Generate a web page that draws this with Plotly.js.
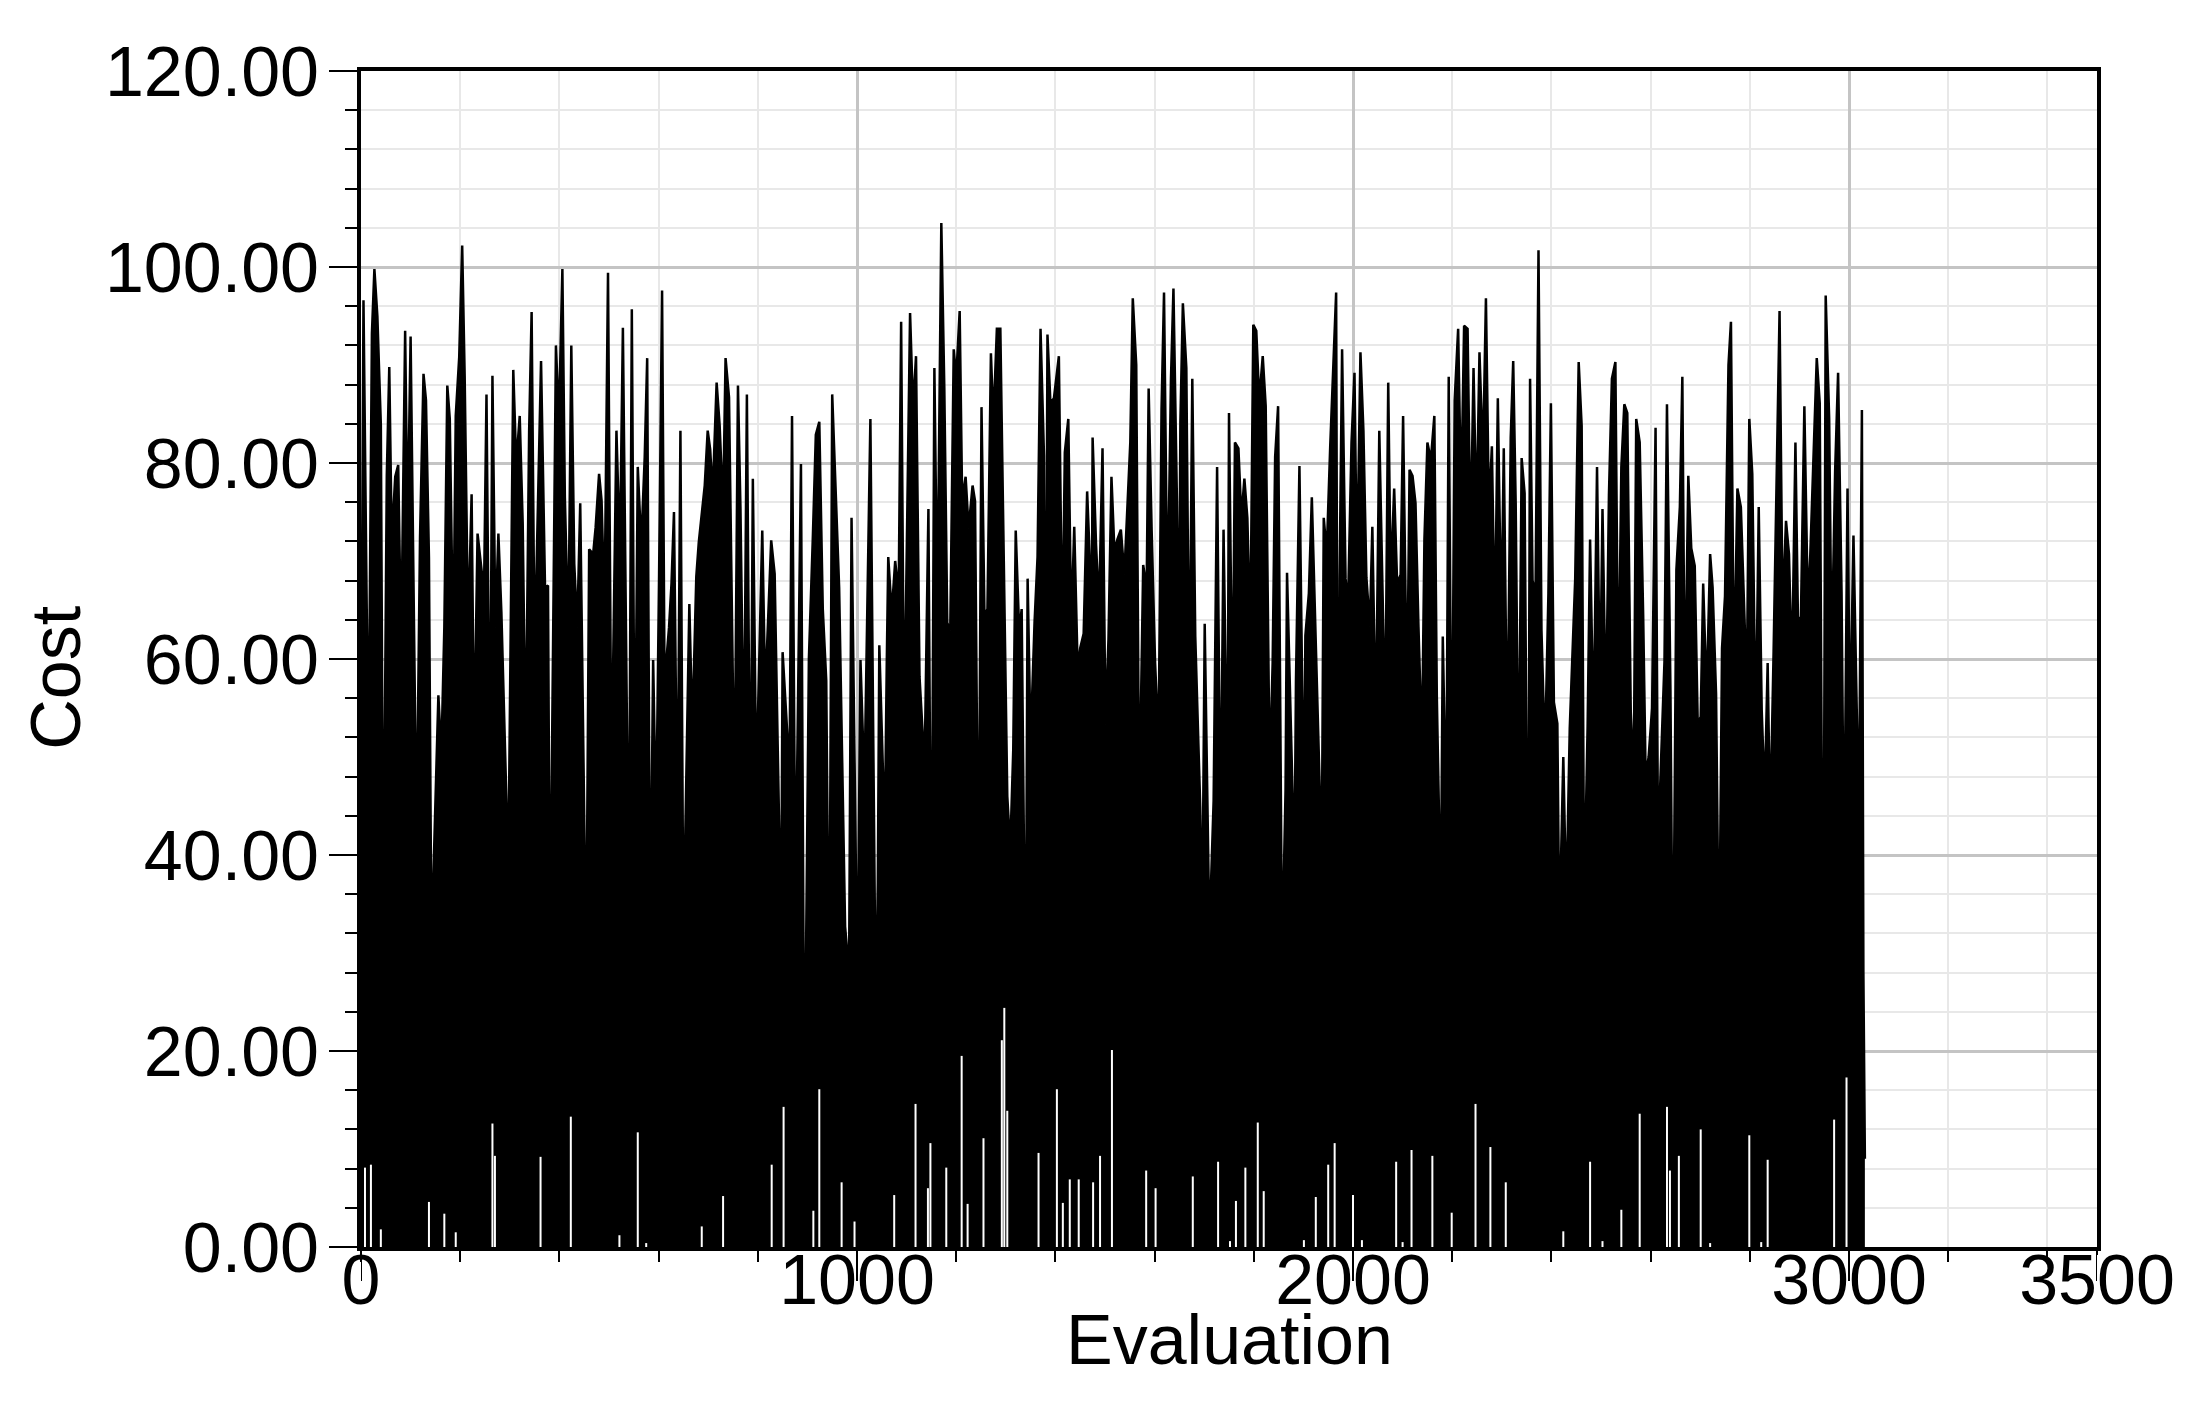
<!DOCTYPE html>
<html>
<head>
<meta charset="utf-8">
<script src="https://cdn.plot.ly/plotly-3.0.1.min.js"></script>
<style>
html, body { margin: 0; padding: 0; background: #fff; }
#plot { width: 2192px; height: 1406px; }
</style>
</head>
<body>
<div id="plot"></div>
<script>
// cost of each evaluation: spike tops and dip bottoms in x order
var evalX = [
    0, 5, 15, 22, 27, 33, 40, 45, 52, 57, 62, 69, 75, 81, 89, 94, 100, 112, 119, 126,
    131, 137, 142, 156, 162, 168, 174, 179, 186, 191, 198, 204, 209, 216, 223, 228, 235, 248, 253, 260,
    265, 271, 277, 283, 297, 307, 313, 320, 326, 332, 339, 344, 350, 358, 363, 371, 377, 381, 387, 393,
    399, 406, 411, 418, 424, 430, 436, 442, 454, 460, 468, 473, 480, 485, 491, 498, 505, 515, 522, 528,
    540, 546, 552, 558, 565, 572, 577, 583, 589, 595, 601, 607, 612, 621, 626, 631, 638, 644, 650, 662,
    668, 676, 681, 693, 699, 704, 709, 717, 723, 730, 735, 742, 753, 760, 765, 772, 778, 785, 790, 797,
    809, 815, 827, 834, 847, 850, 864, 869, 876, 887, 894, 903, 911, 917, 924, 931, 938, 944,
    950, 957, 964, 976, 984, 989, 1001, 1004, 1007, 1015, 1021, 1027, 1038, 1042, 1045, 1056, 1060, 1063, 1070, 1077,
    1084, 1089, 1095, 1101, 1107, 1113, 1119, 1126, 1133, 1137, 1144, 1150, 1156, 1162, 1170, 1176, 1182, 1188, 1195, 1200,
    1207, 1212, 1219, 1225, 1233, 1238, 1245, 1251, 1257, 1263, 1270, 1275, 1282, 1289, 1295, 1303, 1309, 1315, 1320, 1327,
    1332, 1340, 1344, 1350, 1358, 1364, 1370, 1377, 1380, 1384, 1390, 1397, 1407, 1414, 1419, 1426, 1432, 1438, 1445, 1450,
    1457, 1464, 1469, 1472, 1475, 1482, 1488, 1495, 1501, 1507, 1513, 1519, 1525, 1532, 1539, 1545, 1551, 1556, 1563, 1569,
    1577, 1584, 1588, 1594, 1601, 1608, 1614, 1619, 1626, 1633, 1638, 1645, 1649,
    1652, 1657, 1664, 1670, 1676, 1682, 1692, 1696, 1701, 1710, 1714, 1719, 1726, 1733, 1739, 1747, 1750, 1757, 1762, 1769,
    1775, 1781, 1787, 1793, 1799, 1805, 1811, 1818, 1824, 1832, 1838, 1843, 1849, 1857, 1864, 1867, 1882, 1885, 1892, 1901,
    1904, 1911, 1917, 1922, 1929, 1937, 1941, 1947, 1954, 1960, 1966, 1970, 1973, 1978, 1985, 1990, 1997, 2003, 2008, 2015,
    2021, 2027, 2034, 2039, 2046, 2053, 2059, 2065, 2071, 2076, 2083, 2089, 2096, 2101, 2109, 2114, 2120, 2126, 2132, 2139,
    2144, 2150, 2157, 2164, 2169, 2177, 2181, 2188, 2193, 2199, 2205, 2212, 2218, 2224, 2231, 2237, 2243, 2249, 2255, 2262,
    2268, 2274, 2280, 2286, 2292, 2299, 2304, 2311, 2318, 2323, 2328, 2334, 2340, 2346, 2353,
    2357, 2362, 2368, 2374, 2380, 2387, 2394, 2399, 2405, 2412, 2416, 2424, 2430, 2437, 2443, 2448, 2455, 2461, 2466, 2473,
    2478, 2485, 2492, 2498, 2503, 2510, 2516, 2522, 2529, 2535, 2541, 2547, 2553, 2560, 2566, 2571, 2578, 2585, 2590, 2596,
    2603, 2610, 2615, 2620, 2628, 2633, 2640, 2645, 2652, 2659, 2664, 2669, 2676, 2682, 2689, 2695, 2701, 2706, 2713, 2720,
    2725, 2732, 2738, 2744, 2750, 2757, 2762, 2768, 2775, 2782, 2787, 2794, 2799, 2805, 2812, 2818, 2824, 2830, 2836, 2841,
    2848, 2855, 2860, 2866, 2873, 2879, 2885, 2892, 2897, 2903, 2910, 2917, 2922, 2929, 2935, 2941, 2948, 2953, 2960, 2965,
    2972, 2978, 2985, 2990, 2997, 3002, 3009, 3020, 3026, 3029, 3032
];
var cost = [
    48, 96.6, 48.4, 93.2, 99.8, 95.0, 83.9, 32.4, 78.7, 89.8, 72.1, 78.6, 79.8, 61.0, 93.5, 72.8, 92.9, 41.4, 72.4, 89.1,
    86.4, 70.3, 30.6, 56.3, 50.2, 63.2, 87.9, 84.5, 60.5, 84.8, 90.8, 102.2, 88.9, 62.6, 76.8, 50.5, 72.8, 66.8, 87.0, 46.2,
    88.9, 63.2, 72.8, 64.8, 38.3, 89.5, 79.9, 84.8, 73.8, 50.2, 83.3, 95.4, 60.1, 78.4, 90.4, 67.3, 67.5, 28.9, 59.5, 92.0,
    84.3, 99.8, 76.5, 62.1, 92.0, 69.7, 63.2, 75.9, 28.0, 71.2, 70.7, 73.4, 78.9, 76.2, 65.1, 99.4, 47.3, 83.3, 70.7, 93.8,
    34.5, 95.7, 44.3, 79.6, 71.6, 80.6, 90.7, 29.7, 59.9, 43.0, 68.7, 97.6, 57.6, 63.2, 67.7, 75.0, 41.4, 83.3, 31.1, 65.6,
    52.7, 68.4, 71.9, 77.7, 83.3, 81.4, 76.8, 88.2, 83.9, 75.3, 90.7, 86.7, 45.2, 87.9, 75.5, 48.9, 87.0, 39.0, 78.4, 47.1,
    73.1, 56.5, 72.1, 68.7, 31.5, 60.7, 48.4, 84.8, 34.9, 79.9, 12.8, 60.0, 72.5, 82.9, 84.2, 65.1, 57.8, 22.6,
    87.0, 76.9, 67.3, 32.7, 28.0, 74.4, 25.5, 43.5, 59.9, 47.1, 64.2, 84.5, 22.7, 37.2, 61.4, 42.1, 59.5, 70.4, 64.7, 70.0,
    66.5, 94.4, 51.8, 72.9, 95.3, 85.5, 90.9, 58.2, 51.9, 51.4, 75.3, 28.3, 89.7, 64.7, 104.5, 87.7, 63.7, 62.9, 91.6, 88.7,
    95.5, 76.3, 78.6, 73.3, 77.7, 76.1, 33.6, 85.7, 64.4, 65.1, 91.2, 84.2, 93.7, 93.7, 74.4, 46.0, 40.6, 50.7, 73.1, 62.8,
    65.1, 22.7, 68.2, 51.4, 63.8, 70.4, 93.7, 80.7, 43.8, 93.1, 86.1, 86.6, 90.9, 61.2, 81.1, 84.5, 63.3, 73.5, 58.8, 61.1,
    62.6, 77.1, 70.6, 44.7, 82.6, 71.6, 65.2, 81.5, 53.3, 62.0, 78.6, 71.0, 72.2, 73.2, 68.6, 75.3, 82.1, 96.8, 90.0, 44.0,
    69.6, 67.1, 87.6, 73.2, 59.6, 51.5, 85.5, 97.4, 64.7, 88.6, 97.8, 76.2, 58.4,
    84.2, 96.3, 89.7, 54.4, 88.6, 62.3, 44.9, 31.8, 63.6, 33.6, 37.5, 45.5, 79.6, 41.3, 73.2, 45.6, 85.1, 53.6, 82.1, 81.5,
    74.4, 78.4, 74.4, 62.5, 94.1, 93.5, 86.4, 90.9, 85.8, 48.1, 59.6, 80.6, 85.8, 28.9, 46.6, 68.8, 38.5, 57.7, 79.7, 43.1,
    62.4, 66.7, 76.5, 67.1, 55.6, 39.2, 74.4, 70.8, 81.6, 89.7, 97.4, 28.0, 68.2, 91.6, 68.2, 65.5, 82.1, 89.2, 68.6, 91.3,
    83.3, 68.3, 63.3, 73.5, 52.7, 83.3, 68.4, 53.3, 88.2, 67.7, 77.4, 67.7, 68.6, 84.8, 54.9, 79.3, 78.7, 75.9, 63.3, 50.9,
    72.2, 82.1, 80.3, 84.8, 56.2, 34.1, 62.3, 43.1, 88.8, 43.1, 86.4, 93.7, 76.2, 94.0, 93.7, 71.7, 89.7, 74.1, 91.3, 80.3,
    96.8, 75.0, 81.7, 62.5, 86.6, 63.3, 81.5, 50.3, 82.6, 90.4, 75.9, 44.4, 80.5, 76.9, 27.3,
    88.6, 68.0, 66.7, 101.7, 62.9, 50.3, 66.7, 86.1, 55.6, 53.4, 31.8, 50.0, 34.8, 52.9, 61.3, 68.2, 90.3, 83.8, 34.8, 53.1,
    72.2, 52.5, 79.6, 55.6, 75.3, 54.0, 76.7, 88.6, 90.3, 55.0, 79.6, 86.0, 85.1, 54.6, 47.8, 84.5, 82.1, 64.5, 48.1, 50.0,
    55.0, 83.6, 40.7, 48.2, 59.8, 86.0, 56.8, 23.1, 69.1, 75.5, 88.8, 54.3, 78.7, 71.3, 69.5, 53.4, 54.1, 67.7, 56.2, 70.7,
    67.3, 56.4, 27.4, 61.1, 66.4, 90.0, 94.4, 57.4, 77.4, 75.5, 67.9, 56.9, 84.5, 78.9, 51.9, 75.5, 54.8, 46.0, 59.6, 43.0,
    60.8, 83.6, 95.5, 64.9, 74.1, 70.7, 58.4, 82.1, 64.3, 64.0, 85.8, 65.2, 70.7, 81.5, 90.7, 86.1, 20.2, 97.1, 84.5, 60.0,
    79.1, 89.2, 66.7, 37.9, 77.4, 52.2, 72.6, 43.0, 85.4, 28.0, 9.0
];

// places where the cost stayed above zero for a run: x and the height of the gap
var gapX = [
    8, 20, 40, 137, 168, 191, 265, 270, 362, 423, 521, 558, 575, 687, 730, 828, 852, 912, 924,
    969, 995, 1075, 1118, 1143, 1148, 1180, 1211, 1223, 1255, 1292, 1297, 1303, 1366, 1403, 1415, 1429, 1447, 1476, 1490, 1514, 1583, 1602,
    1677, 1728, 1752, 1764, 1783, 1808, 1820, 1901, 1925, 1950, 1963, 2000, 2018, 2087, 2100, 2118, 2160, 2199, 2247, 2277, 2308,
    2424, 2478, 2503, 2541, 2578, 2633, 2639, 2657, 2701, 2720, 2799, 2823, 2836, 2970, 2995
];
var gapTop = [
    8.1, 8.4, 1.8, 4.6, 3.4, 1.5, 12.6, 9.3, 9.2, 13.3, 1.2, 11.7, 0.4, 2.1, 5.2, 8.4, 14.3, 3.7, 16.1,
    6.6, 2.6, 5.3, 14.6, 6.0, 10.6, 8.1, 19.5, 4.4, 11.1, 21.1, 24.4, 13.9, 9.6, 16.1, 4.5, 6.9, 6.9, 6.6, 9.3, 20.1, 7.8, 6.0,
    7.2, 8.7, 0.6, 4.7, 8.1, 12.7, 5.7, 0.7, 5.1, 8.4, 10.6, 5.3, 0.7, 8.7, 0.5, 9.9, 9.3, 3.5, 14.6, 10.2, 6.6,
    1.6, 8.7, 0.6, 3.8, 13.6, 14.3, 7.8, 9.3, 12.0, 0.4, 11.4, 0.5, 8.9, 13.0, 17.3
];

var xTickVals = [0, 1000, 2000, 3000, 3500];
var xTickText = ['0', '1000', '2000', '3000', '3500'];

var FONT = 'Liberation Sans, Arial, sans-serif';

function gapSegments() {
    var xs = [], ys = [];
    for (var i = 0; i < gapX.length; i++) {
        xs.push(gapX[i], gapX[i], null);
        ys.push(0, gapTop[i], null);
    }
    return { x: xs, y: ys };
}

// the long x ticks hang down through the labels, so draw them as shapes
function longTicks() {
    return xTickVals.map(function(v) {
        return {
            type: 'line', xref: 'x', yref: 'paper',
            x0: v, x1: v, y0: 0, y1: -0.029,
            line: { color: '#000', width: 2 },
            layer: 'above'
        };
    });
}

function initPlot() {
    var seg = gapSegments();

    var data = [{
        x: evalX,
        y: cost,
        type: 'scatter',
        mode: 'lines',
        line: { color: '#000', width: 2.5 },
        fill: 'tozeroy',
        fillcolor: '#000',
        hoverinfo: 'skip'
    }, {
        x: seg.x,
        y: seg.y,
        type: 'scatter',
        mode: 'lines',
        line: { color: '#fff', width: 2 },
        connectgaps: false,
        hoverinfo: 'skip'
    }];

    var layout = {
        width: 2192,
        height: 1406,
        margin: { l: 361, r: 95, t: 71, b: 159 },
        paper_bgcolor: '#fff',
        plot_bgcolor: '#fff',
        showlegend: false,
        font: { family: FONT, size: 70, color: '#000' },
        xaxis: {
            range: [0, 3500],
            tickmode: 'array',
            tickvals: xTickVals,
            ticktext: xTickText,
            ticks: 'outside',
            ticklen: 4,
            tickwidth: 2,
            tickcolor: '#000',
            ticklabelstandoff: -35,
            tickfont: { family: FONT, size: 70, color: '#000' },
            showgrid: true,
            gridcolor: '#c4c4c4',
            gridwidth: 3,
            zeroline: false,
            showline: true,
            linecolor: '#000',
            linewidth: 4,
            mirror: true,
            minor: {
                tickmode: 'linear',
                tick0: 0,
                dtick: 200,
                ticks: 'outside',
                ticklen: 11,
                tickwidth: 2,
                tickcolor: '#000',
                showgrid: true,
                gridcolor: '#e8e8e8',
                gridwidth: 2
            }
        },
        yaxis: {
            range: [0, 120],
            tickmode: 'linear',
            tick0: 0,
            dtick: 20,
            tickformat: '.2f',
            ticks: 'outside',
            ticklen: 28,
            tickwidth: 2,
            tickcolor: '#000',
            ticklabelstandoff: -4,
            tickfont: { family: FONT, size: 70, color: '#000' },
            showgrid: true,
            gridcolor: '#c4c4c4',
            gridwidth: 3,
            zeroline: false,
            showline: true,
            linecolor: '#000',
            linewidth: 4,
            mirror: true,
            minor: {
                tickmode: 'linear',
                tick0: 0,
                dtick: 4,
                ticks: 'outside',
                ticklen: 12,
                tickwidth: 2,
                tickcolor: '#000',
                showgrid: true,
                gridcolor: '#e8e8e8',
                gridwidth: 2
            }
        },
        shapes: longTicks(),
        annotations: [{
            text: 'Evaluation',
            xref: 'paper', yref: 'paper',
            x: 0.5, y: -0.079,
            xanchor: 'center', yanchor: 'middle',
            showarrow: false,
            font: { family: FONT, size: 70, color: '#000' }
        }, {
            text: 'Cost',
            xref: 'paper', yref: 'paper',
            x: -0.1757, y: 0.484,
            xanchor: 'center', yanchor: 'middle',
            textangle: -90,
            showarrow: false,
            font: { family: FONT, size: 70, color: '#000' }
        }]
    };

    Plotly.newPlot('plot', data, layout, { staticPlot: true });
}

document.addEventListener('DOMContentLoaded', function() {
    initPlot();
});
</script>
</body>
</html>
